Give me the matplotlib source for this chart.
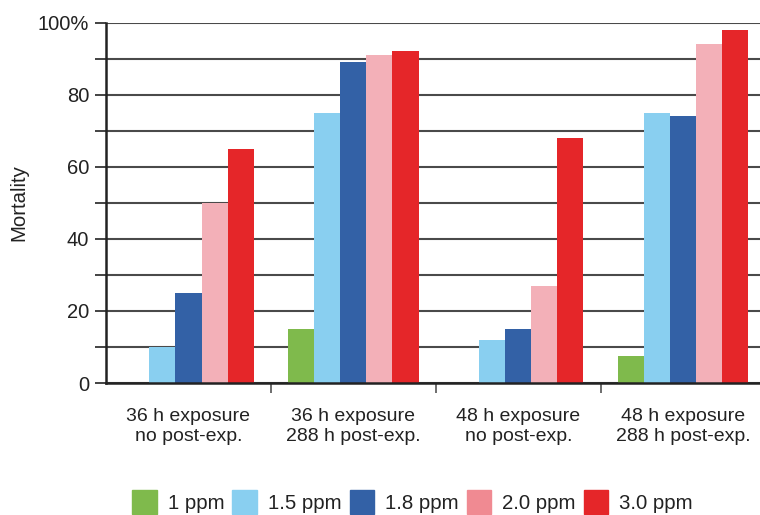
import matplotlib.pyplot as plt
import numpy as np

plt.rcParams['font.family'] = ['Liberation Sans', 'DejaVu Sans']

groups = ['36 h exposure\nno post-exp.', '36 h exposure\n288 h post-exp.',
          '48 h exposure\nno post-exp.', '48 h exposure\n288 h post-exp.']
doses = ['1 ppm', '1.5 ppm', '1.8 ppm', '2.0 ppm', '3.0 ppm']
mort_1 = [0, 15, 0, 7.5]
mort_15 = [10, 75, 12, 75]
mort_18 = [25, 89, 15, 74]
mort_20 = [50, 91, 27, 94]
mort_30 = [65, 92, 68, 98]
series = [mort_1, mort_15, mort_18, mort_20, mort_30]

bar_colors = ['#7fba4c', '#89cff0', '#3361a6', '#f3b0b8', '#e52629']
legend_colors = ['#7fba4c', '#89cff0', '#3361a6', '#f08a92', '#e52629']

fig = plt.figure(figsize=(7.6, 5.15), dpi=100)
ax = fig.add_axes([0.1395, 0.2563, 0.868, 0.6997])

x = np.arange(len(groups))
width = 0.158
for i, vals in enumerate(series):
    ax.bar(x + (i - 2) * width, vals, width, color=bar_colors[i], zorder=3)

ax.set_xlim(-0.5, 3.5)
ax.set_ylim(0, 100)
ax.set_yticks(np.arange(0, 101, 20))
ax.set_yticklabels(['0', '20', '40', '60', '80', '100%'])
ax.set_yticks(np.arange(10, 100, 20), minor=True)
ax.yaxis.grid(True, which='both', color='#4a4a4a', linewidth=1.5, zorder=1)
ax.tick_params(axis='y', which='both', length=8, width=1.2, labelsize=14.5,
               colors='#222222', pad=4)

ax.set_xticks(x)
ax.set_xticklabels(groups, fontsize=14, color='#222222', linespacing=1.2)
ax.tick_params(axis='x', which='major', length=0, pad=18)
ax.set_xticks([0.5, 1.5, 2.5], minor=True)
ax.tick_params(axis='x', which='minor', length=7, width=1.2, color='#555555')

for s in ['top', 'right']:
    ax.spines[s].set_visible(False)
for s in ['left', 'bottom']:
    ax.spines[s].set_linewidth(1.8)
    ax.spines[s].set_color('#222222')
    ax.spines[s].set_zorder(4)

ax.set_ylabel('Mortality', fontsize=14.7, color='#222222', labelpad=7)

handles = [plt.Rectangle((0, 0), 1, 1, color=c) for c in legend_colors]
fig.legend(handles, doses, loc='center', bbox_to_anchor=(0.543, 0.025), ncol=5,
           frameon=False, fontsize=14.7, handlelength=1.2, handleheight=1.4,
           handletextpad=0.55, columnspacing=0.38, labelcolor='#222222')

plt.savefig('out.png', dpi=100)
